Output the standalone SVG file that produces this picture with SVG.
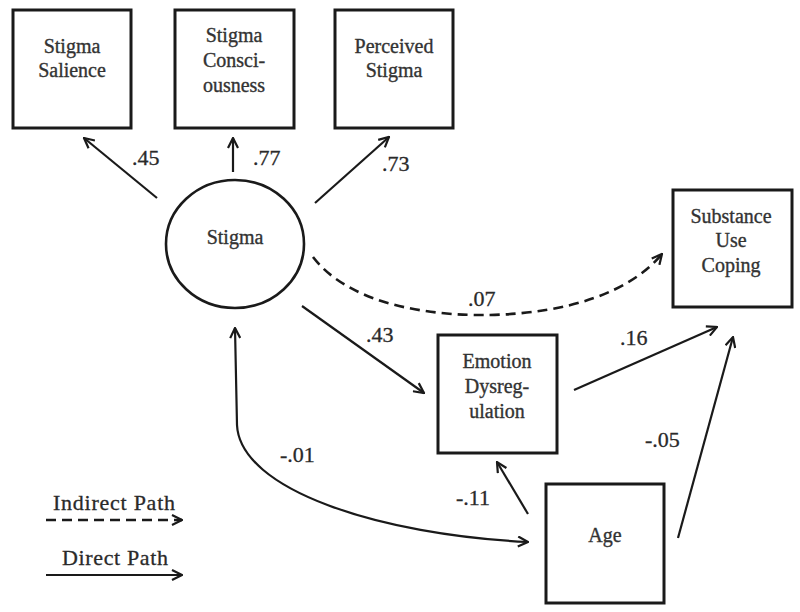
<svg xmlns="http://www.w3.org/2000/svg" width="800" height="612" viewBox="0 0 800 612">
<style>
.box{fill:#fff;stroke:#1a1a1a;stroke-width:3}
.lbl{font-family:"Liberation Serif","Times New Roman",serif;font-size:20px;fill:#333;stroke:#333;stroke-width:0.35;text-anchor:middle}
.num{font-family:"Liberation Serif","Times New Roman",serif;font-size:22px;fill:#2a2a2a;stroke:#2a2a2a;stroke-width:0.3}
.leg{font-family:"Liberation Serif","Times New Roman",serif;font-size:22px;fill:#2a2a2a;stroke:#2a2a2a;stroke-width:0.3}
.ln{fill:none;stroke:#1a1a1a;stroke-width:2.2}
.dash{fill:none;stroke:#1a1a1a;stroke-width:2.6;stroke-dasharray:10 6}
</style>
<defs>
<marker id="arr" viewBox="0 0 12 12" refX="11" refY="6" markerWidth="12" markerHeight="12" markerUnits="userSpaceOnUse" orient="auto-start-reverse">
<path d="M1,1 L11,6 L1,11" fill="none" stroke="#1a1a1a" stroke-width="2.2" stroke-linejoin="miter"/>
</marker>
</defs>
<rect width="800" height="612" fill="#fff"/>
<g id="salience"><rect class="box" x="13" y="10" width="118" height="118"/><text class="lbl" x="72" y="53">Stigma</text><text class="lbl" x="72" y="77">Salience</text></g>
<g id="consciousness"><rect class="box" x="175" y="10" width="119" height="118"/><text class="lbl" x="234" y="42">Stigma</text><text class="lbl" x="234" y="67">Consci-</text><text class="lbl" x="234" y="92">ousness</text></g>
<g id="perceived"><rect class="box" x="335" y="10" width="118" height="118"/><text class="lbl" x="394" y="53">Perceived</text><text class="lbl" x="394" y="77">Stigma</text></g>
<g id="stigma"><ellipse cx="235" cy="244" rx="69" ry="64" fill="#fff" stroke="#1a1a1a" stroke-width="2.6"/><text class="lbl" x="235" y="244">Stigma</text></g>
<g id="substance"><rect class="box" x="673" y="190" width="119" height="117"/><text class="lbl" x="731" y="223">Substance</text><text class="lbl" x="731" y="247">Use</text><text class="lbl" x="731" y="272">Coping</text></g>
<g id="emotion"><rect class="box" x="438" y="335" width="119" height="118"/><text class="lbl" x="497" y="368">Emotion</text><text class="lbl" x="497" y="393">Dysreg-</text><text class="lbl" x="497" y="418">ulation</text></g>
<g id="age"><rect class="box" x="546" y="484" width="118" height="119"/><text class="lbl" x="605" y="542">Age</text></g>
<g id="connectors">
<path class="ln" d="M157,198 L84,138" marker-end="url(#arr)"/>
<text class="num" x="132" y="165">.45</text>
<path class="ln" d="M233,172 L233,138" marker-end="url(#arr)"/>
<text class="num" x="253" y="165">.77</text>
<path class="ln" d="M315,203 L389,137" marker-end="url(#arr)"/>
<text class="num" x="382" y="171">.73</text>
<path class="dash" d="M313,257 C350,305 430,316 490,315 C570,313 630,292 662,254" marker-end="url(#arr)"/>
<text class="num" x="468" y="306">.07</text>
<path class="ln" d="M302,306 L424,393" marker-end="url(#arr)"/>
<text class="num" x="366" y="342">.43</text>
<path class="ln" d="M574,390 L717,327" marker-end="url(#arr)"/>
<text class="num" x="620" y="345">.16</text>
<path class="ln" d="M678,538 L733,337" marker-end="url(#arr)"/>
<text class="num" x="645" y="447">-.05</text>
<path class="ln" d="M528,514 L497,462" marker-end="url(#arr)"/>
<text class="num" x="456" y="505">-.11</text>
<path class="ln" d="M235,328 L237,425 C240,490 380,535 528,542" marker-start="url(#arr)" marker-end="url(#arr)"/>
<text class="num" x="280" y="462">-.01</text>
</g>
<g id="legend">
<text class="leg" x="53" y="510" textLength="122" lengthAdjust="spacing">Indirect Path</text>
<path class="dash" d="M46,520 L182,520" marker-end="url(#arr)"/>
<text class="leg" x="62" y="565" textLength="106" lengthAdjust="spacing">Direct Path</text>
<path class="ln" d="M46,575 L182,575" marker-end="url(#arr)"/>
</g>
</svg>
